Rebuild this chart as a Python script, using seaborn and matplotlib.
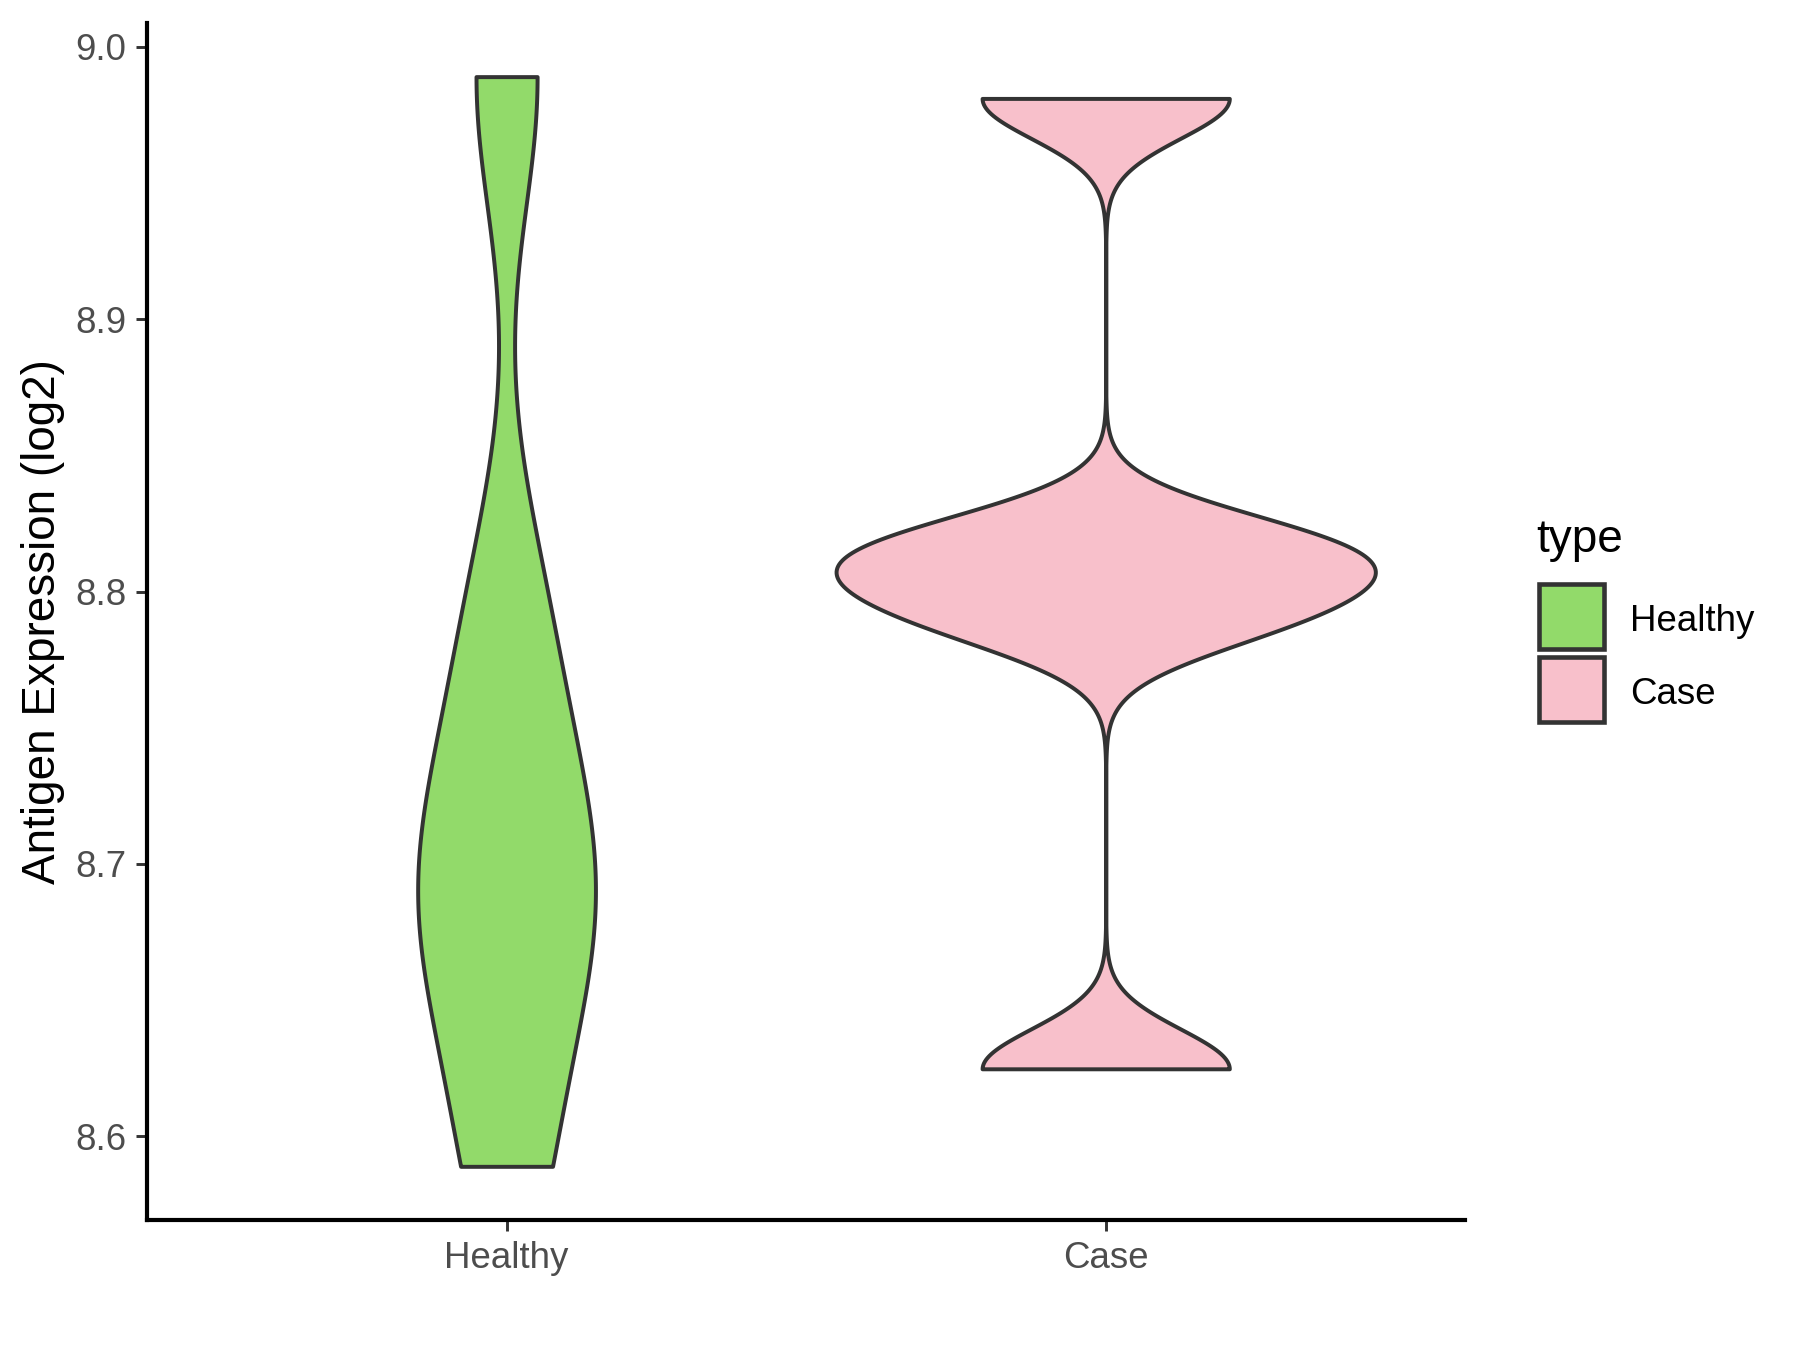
import numpy as np
import pandas as pd
import matplotlib
matplotlib.use("Agg")
import matplotlib.pyplot as plt
from matplotlib.patches import Rectangle
import seaborn as sns

# ---- data ----
categories = ["Healthy", "Case"]
healthy_values = [8.589, 8.66, 8.69, 8.72, 8.79, 8.989]
case_values = [8.6248, 8.789, 8.807, 8.819, 8.981]
colors = ["#92DA6A", "#F8C0CB"]
y_ticks = [8.6, 8.7, 8.8, 8.9, 9.0]
y_label = "Antigen Expression (log2)"
legend_title = "type"

sns.set_theme(style="ticks")
plt.rcParams["font.family"] = ["Liberation Sans", "DejaVu Sans"]

values = {"Healthy": healthy_values, "Case": case_values}
df = pd.DataFrame({
    "type": [c for c in categories for _ in values[c]],
    "value": [v for c in categories for v in values[c]],
})


def nrd0(v):
    v = np.asarray(v, dtype=float)
    sd = v.std(ddof=1)
    q75, q25 = np.percentile(v, [75, 25])
    lo = min(sd, (q75 - q25) / 1.34)
    return 0.9 * lo * len(v) ** (-0.2)


def peak_density(v, h):
    v = np.asarray(v, dtype=float)
    grid = np.linspace(v.min(), v.max(), 512)
    d = np.exp(-0.5 * ((grid[:, None] - v[None, :]) / h) ** 2).sum(1)
    return (d / (len(v) * h * np.sqrt(2 * np.pi))).max()


bws = {k: nrd0(v) for k, v in values.items()}
peaks = {k: peak_density(values[k], bws[k]) for k in categories}
pmax = max(peaks.values())

fig = plt.figure(figsize=(6, 4.5), dpi=300)
ax = fig.add_axes([0.0817, 0.0963, 0.814 - 0.0817, 0.983 - 0.0963])

for k in categories:
    sub = df[df["type"] == k]
    sns.violinplot(
        data=sub, x="type", y="value", hue="type",
        order=categories, hue_order=categories, palette=colors,
        inner=None, cut=0, gridsize=512,
        bw_method=bws[k] / np.std(values[k], ddof=1), bw_adjust=1,
        density_norm="area", width=0.9 * peaks[k] / pmax,
        linewidth=0.95, linecolor="#333333", saturation=1,
        legend=False, ax=ax,
    )

ax.set_xlim(-0.6, 1.6)
ax.set_ylim(8.5693, 9.0087)
ax.set_yticks(y_ticks)
ax.set_yticklabels([f"{t:.1f}" for t in y_ticks])
ax.set_xlabel("")
ax.set_ylabel(y_label, fontsize=11, color="black", labelpad=2.5)

for s in ["top", "right"]:
    ax.spines[s].set_visible(False)
for s in ["left", "bottom"]:
    ax.spines[s].set_color("black")
    ax.spines[s].set_linewidth(1.0)
ax.tick_params(axis="both", length=2.75, width=0.7, color="#333333",
               labelsize=8.8, labelcolor="#4D4D4D", pad=2.2)

# ---- legend (ggplot-style keys, drawn in figure pixel space) ----
W, H = 1800, 1350
fig.text(1536 / W, 1 - 540 / H, legend_title, fontsize=11, color="black",
         ha="left", va="center")
key_tops = [584, 657]
for c, lab, top in zip(colors, categories, key_tops):
    fig.patches.append(Rectangle((1539 / W, 1 - (top + 65) / H), 65 / W, 65 / H,
                                 facecolor=c, edgecolor="#333333", linewidth=1.1,
                                 transform=fig.transFigure, figure=fig))
    fig.text(1630 / W, 1 - (top + 38) / H, lab, fontsize=8.8, color="black",
             ha="left", va="center")

fig.savefig("out.png", dpi=300)
